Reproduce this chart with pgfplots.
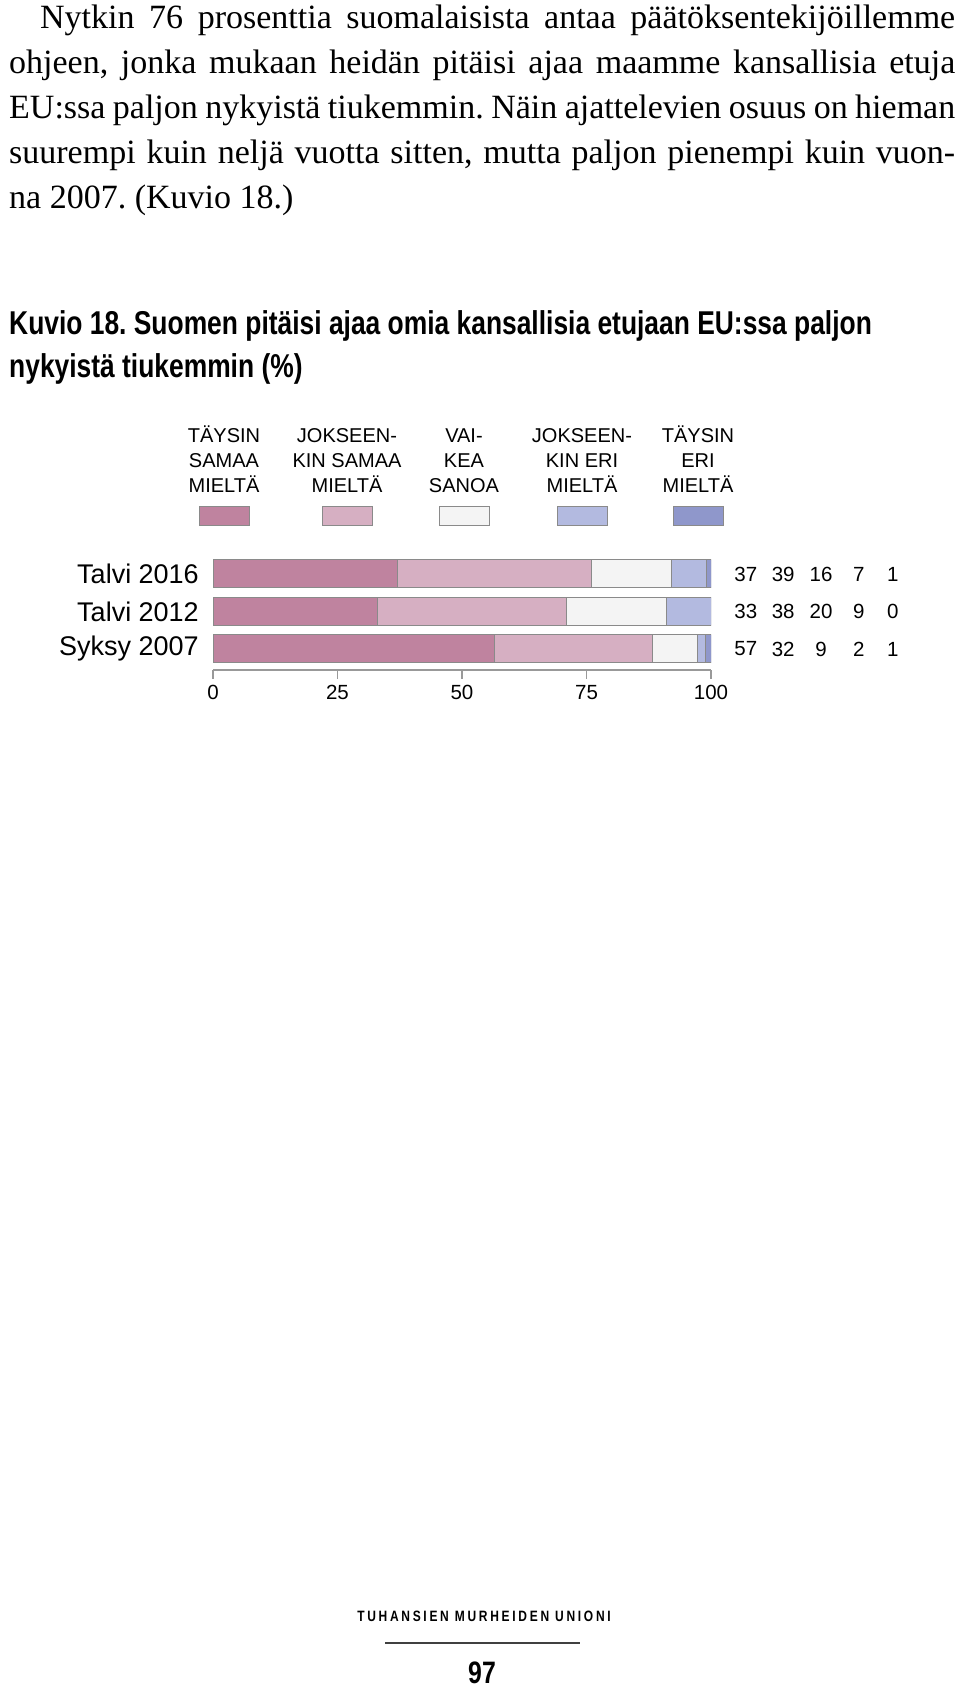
\documentclass[border=0pt]{standalone}
\usepackage{fontspec}
\usepackage{pgfplots}
\pgfplotsset{compat=1.18}
\setmainfont{Liberation Serif}
\newfontfamily\sans{Liberation Sans}
\newfontfamily\capfont[FakeStretch=0.8]{Liberation Sans}
\newfontfamily\footfont[FakeStretch=0.8,LetterSpace=18]{Liberation Sans}

\definecolor{cA}{HTML}{BF839F}
\definecolor{cB}{HTML}{D6AFC2}
\definecolor{cC}{HTML}{F4F4F4}
\definecolor{cD}{HTML}{B3BAE0}
\definecolor{cE}{HTML}{8F97CB}
\definecolor{edge}{HTML}{8A8A8A}

\begin{document}
\frenchspacing
\begin{tikzpicture}
\path[use as bounding box] (0pt,0pt) rectangle (960pt,1690pt);

% body text
\node[anchor=base west, inner sep=0pt, text width=946pt, align=justify,
      font=\fontsize{34}{45}\selectfont] at (9pt,1661pt)
{\hyphenpenalty=10000\tolerance=9999\hspace*{31pt}Nytkin 76 prosenttia suomalaisista antaa päätöksentekijöillemme\linebreak
ohjeen, jonka mukaan heidän pitäisi ajaa maamme kansallisia etuja\linebreak
EU:ssa paljon nykyistä tiukemmin. Näin ajattelevien osuus on hieman\linebreak
suurempi kuin neljä vuotta sitten, mutta paljon pienempi kuin vuon-\linebreak
na 2007. (Kuvio 18.)};

% caption
\node[anchor=base west, inner sep=0pt, font=\capfont\bfseries\fontsize{33}{43}\selectfont]
  at (9pt,1355pt) {Kuvio 18. Suomen pitäisi ajaa omia kansallisia etujaan EU:ssa paljon};
\node[anchor=base west, inner sep=0pt, font=\capfont\bfseries\fontsize{33}{43}\selectfont]
  at (9pt,1312pt) {nykyistä tiukemmin (\%)};

% legend
\foreach \cx/\la/\lb/\lc/\col in {224/TÄYSIN/SAMAA/MIELTÄ/cA,
                                 347/JOKSEEN-/KIN SAMAA/MIELTÄ/cB,
                                 464/VAI-/KEA/SANOA/cC,
                                 582/JOKSEEN-/KIN ERI/MIELTÄ/cD,
                                 698/TÄYSIN/ERI/MIELTÄ/cE}{
  \node[anchor=base, inner sep=0pt, font=\sans\fontsize{20}{25}\selectfont] at (\cx pt,1247pt) {\la};
  \node[anchor=base, inner sep=0pt, font=\sans\fontsize{20}{25}\selectfont] at (\cx pt,1222pt) {\lb};
  \node[anchor=base, inner sep=0pt, font=\sans\fontsize{20}{25}\selectfont] at (\cx pt,1197pt) {\lc};
  \draw[fill=\col, draw=edge, line width=1pt]
    (\cx pt-25pt,1164pt) rectangle (\cx pt+25pt,1183pt);
}

% bars
\begin{axis}[
  at={(213pt,1020pt)}, anchor=south west,
  scale only axis, width=498pt, height=111pt,
  xbar stacked, bar width=28pt,
  xmin=0, xmax=100, ymin=-0.56, ymax=2.4,
  axis x line*=bottom, axis y line*=left,
  x axis line style={-, draw=black!40, line width=1.5pt},
  y axis line style={draw=none},
  xtick={0,25,50,75,100},
  ytick={0,1,2},
  yticklabels={Syksy 2007,Talvi 2012,Talvi 2016},
  tick align=outside,
  x tick style={draw=black!40, line width=1.2pt},
  y tick style={draw=none},
  major tick length=9pt,
  ticklabel style={font=\sans\fontsize{20.5}{24}\selectfont},
  xticklabel style={yshift=-3pt},
  yticklabel style={font=\sans\fontsize{27}{32}\selectfont, inner sep=0pt, xshift=-5pt},
  /pgf/number format/assume math mode=true,
  every axis plot/.append style={draw=edge, line width=1pt},
]
\addplot[fill=cA] coordinates {(56.5,0) (33,1) (37,2)};
\addplot[fill=cB] coordinates {(31.8,0) (38,1) (39,2)};
\addplot[fill=cC] coordinates {(8.9,0) (20,1) (16,2)};
\addplot[fill=cD] coordinates {(1.7,0) (9,1) (7,2)};
\addplot[fill=cE] coordinates {(1.1,0) (0,1) (1,2)};
\end{axis}

% value table to the right
\begin{axis}[
  at={(213pt,1020pt)}, anchor=south west,
  scale only axis, width=498pt, height=111pt,
  xmin=0, xmax=100, ymin=-0.56, ymax=2.4,
  hide axis, clip=false,
  point meta=explicit symbolic,
  nodes near coords,
  nodes near coords style={anchor=center, inner sep=0pt, font=\sans\fontsize{20.5}{24}\selectfont},
]
\addplot[draw=none, mark=none] coordinates {(107,2) [37] (107,1) [33] (107,0) [57]};
\addplot[draw=none, mark=none] coordinates {(114.5,2) [39] (114.5,1) [38] (114.5,0) [32]};
\addplot[draw=none, mark=none] coordinates {(122.1,2) [16] (122.1,1) [20] (122.1,0) [9]};
\addplot[draw=none, mark=none] coordinates {(129.7,2) [7] (129.7,1) [9] (129.7,0) [2]};
\addplot[draw=none, mark=none] coordinates {(136.5,2) [1] (136.5,1) [0] (136.5,0) [1]};
\end{axis}

% footer
\node[anchor=base, inner sep=0pt, font=\footfont\bfseries\fontsize{15}{18}\selectfont]
  at (484pt,68pt) {TUHANSIEN MURHEIDEN UNIONI};
\draw[line width=2pt, black!75] (385pt,47pt) -- (580pt,47pt);
\node[anchor=base, inner sep=0pt, font=\capfont\bfseries\fontsize{31}{36}\selectfont]
  at (482pt,6pt) {97};
\end{tikzpicture}
\end{document}
